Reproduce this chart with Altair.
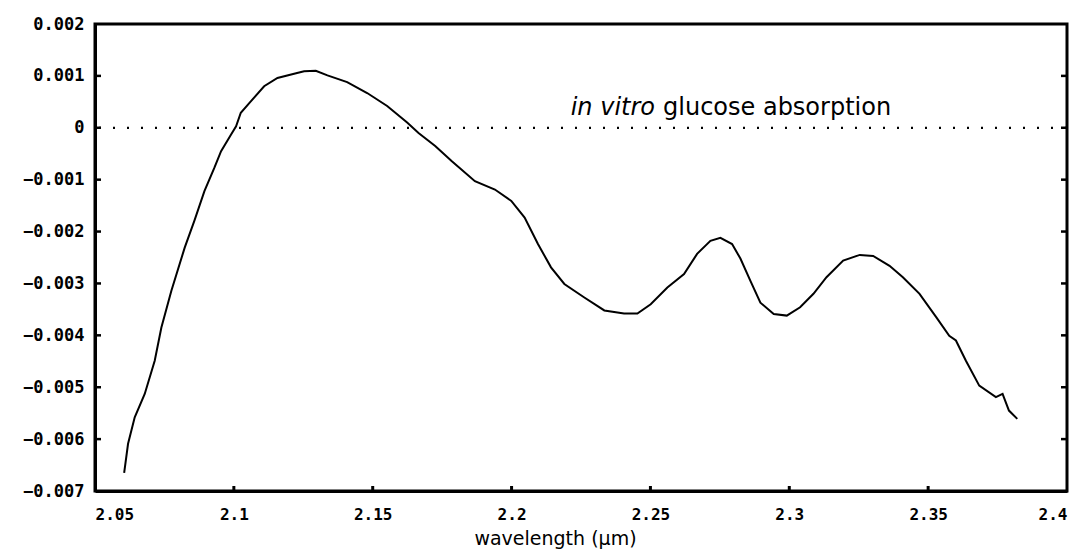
import altair as alt
import pandas as pd

# ---- data ----
wavelength = [2.0605, 2.0619, 2.0643, 2.0679, 2.0715, 2.0739, 2.0775, 2.0823, 2.0858, 2.0894,
              2.0930, 2.0954, 2.0990, 2.1008, 2.1025, 2.1061, 2.1109, 2.1157, 2.1217, 2.1253,
              2.1295, 2.1337, 2.1408, 2.1480, 2.1552, 2.1624, 2.1665, 2.1725, 2.1784, 2.1868,
              2.1940, 2.1999, 2.2047, 2.2095, 2.2142, 2.2190, 2.2262, 2.2334, 2.2405, 2.2453,
              2.2501, 2.2561, 2.2621, 2.2668, 2.2716, 2.2752, 2.2794, 2.2824, 2.2860, 2.2896,
              2.2944, 2.2991, 2.3039, 2.3087, 2.3134, 2.3194, 2.3254, 2.3302, 2.3361, 2.3409,
              2.3469, 2.3529, 2.3576, 2.3600, 2.3636, 2.3684, 2.3744, 2.3768, 2.3791, 2.3821]
absorption_milli = [-6.65, -6.09, -5.58, -5.13, -4.49, -3.85, -3.14, -2.31, -1.79, -1.22,
                    -0.77, -0.45, -0.13, 0.03, 0.29, 0.51, 0.80, 0.96, 1.04, 1.09,
                    1.10, 1.01, 0.88, 0.67, 0.42, 0.10, -0.10, -0.35, -0.64, -1.03,
                    -1.19, -1.41, -1.73, -2.24, -2.69, -3.01, -3.27, -3.52, -3.58, -3.58,
                    -3.40, -3.08, -2.82, -2.43, -2.18, -2.12, -2.24, -2.52, -2.95, -3.37,
                    -3.59, -3.62, -3.46, -3.20, -2.88, -2.56, -2.45, -2.47, -2.66, -2.88,
                    -3.20, -3.65, -4.01, -4.10, -4.49, -4.97, -5.19, -5.13, -5.45, -5.61]
x_ticks = [2.05, 2.1, 2.15, 2.2, 2.25, 2.3, 2.35, 2.4]
y_ticks = [0.002, 0.001, 0, -0.001, -0.002, -0.003, -0.004, -0.005, -0.006, -0.007]
annotation_italic = "in vitro"
annotation_plain = "glucose absorption"
annotation_x = 2.2531
annotation_y = 0.00024
x_title = "wavelength  (\u00b5m)"

W, H = 972, 467

df = pd.DataFrame({"wl": wavelength, "a": [v / 1000 for v in absorption_milli]})
zero_df = pd.DataFrame({"wl": [2.05], "a": [0.0]})
ytick_df = pd.DataFrame({"a": y_ticks[1:-1]})
xtick_df = pd.DataFrame({"wl": x_ticks[1:-1]})
ann_df = pd.DataFrame({"wl": [annotation_x], "a": [annotation_y],
                       "t1": [annotation_italic], "t2": [annotation_plain]})

xscale = alt.Scale(domain=[2.05, 2.4], nice=False, zero=False)
yscale = alt.Scale(domain=[-0.007, 0.002], nice=False, zero=False)

xaxis = alt.Axis(values=x_ticks, format=".2~f", title=x_title,
                 labelPadding=15, labelFontSize=16, titleX=460, titleY=47,
                 titleAlign="center", titleBaseline="middle",
                 titleFont="DejaVu Sans", titleFontSize=19,
                 titleFontWeight="normal", titleColor="black")
yaxis = alt.Axis(values=y_ticks, title=None, labelPadding=11,
                 labelExpr="datum.value == 0 ? '0' : format(datum.value, '.3f')")

X = alt.X("wl:Q", scale=xscale, axis=xaxis)
Y = alt.Y("a:Q", scale=yscale, axis=yaxis)

line = alt.Chart(df).mark_line(color="black", strokeWidth=2).encode(x=X, y=Y)

zero = alt.Chart(zero_df).mark_rule(color="black", strokeWidth=2.2, strokeDash=[2, 12]).encode(y=Y)

left_ticks = alt.Chart(ytick_df).mark_rule(color="black", strokeWidth=2.5).encode(
    y=Y, x=alt.value(0), x2=alt.value(6)
)
right_ticks = alt.Chart(ytick_df).mark_rule(color="black", strokeWidth=2.5).encode(
    y=Y, x=alt.value(W - 6), x2=alt.value(W)
)
bottom_ticks = alt.Chart(xtick_df).mark_rule(color="black", strokeWidth=3).encode(
    x=X, y=alt.value(H - 5), y2=alt.value(H)
)

text1 = alt.Chart(ann_df).mark_text(
    align="right", baseline="alphabetic", font="DejaVu Sans", fontSize=24,
    fontStyle="italic", color="black", dx=-4
).encode(x=X, y=Y, text="t1:N")
text2 = alt.Chart(ann_df).mark_text(
    align="left", baseline="alphabetic", font="DejaVu Sans", fontSize=24,
    color="black", dx=4
).encode(x=X, y=Y, text="t2:N")

chart = alt.layer(line, zero, left_ticks, right_ticks, bottom_ticks, text1, text2).properties(
    width=W, height=H,
    padding={"left": 95, "top": 24, "right": 22, "bottom": 58},
    autosize=alt.AutoSizeParams(type="none"),
    background="white",
).configure_view(
    stroke="black", strokeWidth=3
).configure_axis(
    grid=False, domainColor="black", domainWidth=3, tickSize=0,
    labelFont="DejaVu Sans Mono", labelFontWeight="bold", labelFontSize=17,
    labelColor="black",
)

chart.save("out.html", embed_options={"renderer": "svg", "actions": False})
